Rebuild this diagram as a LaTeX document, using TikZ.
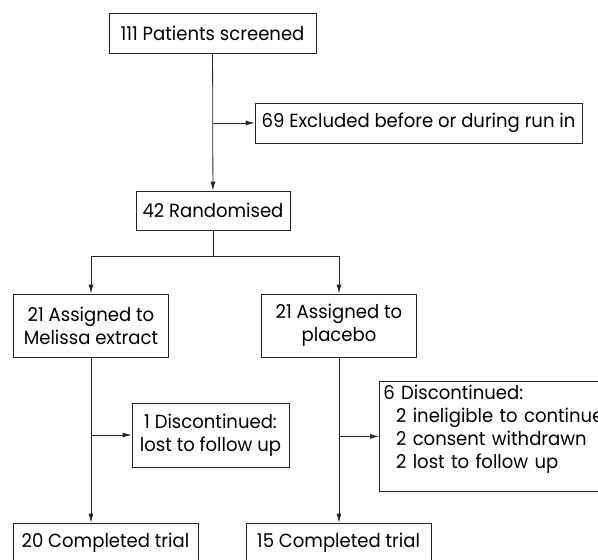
\documentclass[tikz,border=0pt]{standalone}
\usepackage{fontspec}
\setmainfont{Poppins}[FakeStretch=0.95]
\usetikzlibrary{arrows.meta}

\tikzset{
  box/.style={draw=black!85, line width=0.8pt, rectangle, align=center,
    inner sep=4pt, font=\fontsize{19}{23}\selectfont},
  flow/.style={draw=black!85, line width=0.8pt, -{Latex[length=9pt,width=5pt]}}
}

\begin{document}
\begin{tikzpicture}
  [x=1pt,y=-1pt]
  \useasboundingbox (0,0) rectangle (598,560);
  \node[box, minimum width=207, minimum height=40] (screened) at (212.5,33) {111 Patients screened};
  \node[box, minimum width=327, minimum height=40] (excluded) at (418.5,123) {69 Excluded before or during run in};
  \node[box, minimum width=154, minimum height=39] (random) at (213,210.5) {42 Randomised};
  \node[box, minimum width=155, minimum height=63] (melissa) at (91,325.5) {21 Assigned to\\Melissa extract};
  \node[box, minimum width=155, minimum height=63] (placebo) at (339,325.5) {21 Assigned to\\placebo};
  \node[box, minimum width=157, minimum height=64] (lostm) at (210.5,435) {1 Discontinued:\\lost to follow up};
  \node[box, anchor=north west, align=left, text width=240, text height=14pt, text depth=88pt] (lostp) at (379,381)
    {6 Discontinued:\\\ \ 2 ineligible to continue\\\ \ 2 consent withdrawn\\\ \ 2 lost to follow up};
  \node[box, minimum width=185, minimum height=40] (donem) at (105.5,543) {20 Completed trial};
  \node[box, minimum width=185, minimum height=40] (donep) at (338.5,543) {15 Completed trial};
  \coordinate (split) at (213,256);

  \draw[flow] (screened) -- (random);
  \draw[flow] (screened |- excluded.west) -- (excluded.west);
  \draw[draw=black!85, line width=0.8pt] (random) -- (split);
  \foreach \to in {melissa,placebo}
    \draw[flow] (split) -| (\to);
  \foreach \from/\to/\side in {melissa/donem/lostm,placebo/donep/lostp}
  {
    \draw[flow] (\from.south) -- (\from.south |- \to.north);
    \draw[flow] (\from.south |- \side.west) -- (\side.west);
  }
\end{tikzpicture}
\end{document}
